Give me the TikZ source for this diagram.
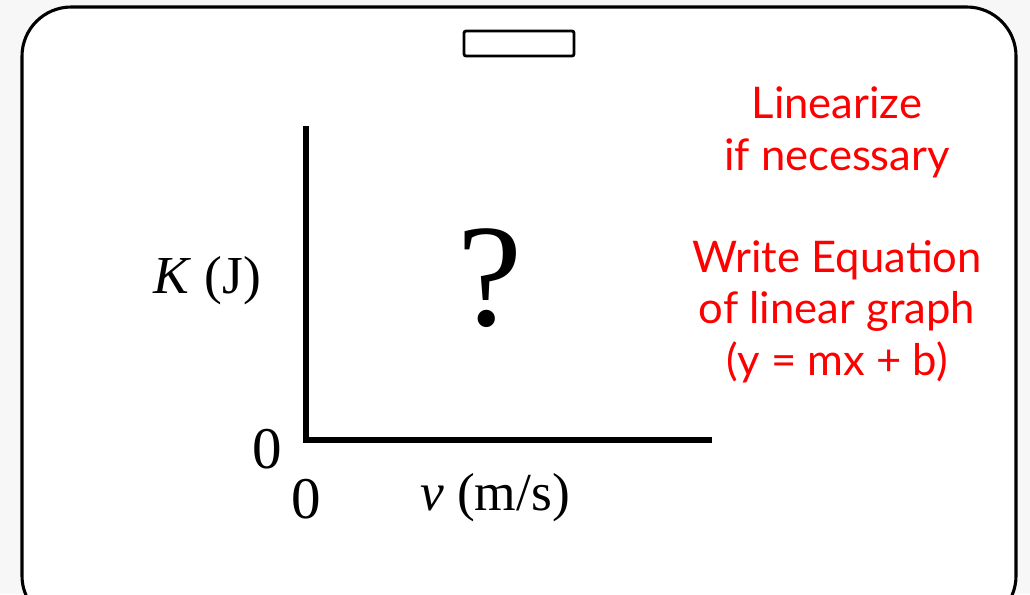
\documentclass[tikz,border=0pt]{standalone}
\usepackage{fontspec}
\setmainfont{Liberation Serif}
\newfontfamily\notefont{Lato}
\definecolor{Cnote}{HTML}{FF0000}
\definecolor{Cpage}{HTML}{F7F7F7}

\begin{document}
\begin{tikzpicture}[x=0.025cm,y=-0.025cm,
		axlabel/.style={anchor=base,inner sep=0pt,font=\fontsize{38}{40}\selectfont},
		note/.style={anchor=base,inner sep=0pt,text=Cnote,font=\notefont\fontsize{31}{37}\selectfont}]
		\fill[Cpage] (0,0) rectangle (1030,594);
		\useasboundingbox (0,0) rectangle (1030,594);
		\draw[fill=white,line width=2.2pt,rounded corners=35] (22,7) rectangle (1016,625);
		\draw[line width=2pt,rounded corners=1.5] (464,31) rectangle (574,56);
		% axes
		\coordinate (top) at (306,126);
		\coordinate (origin) at (306,440);
		\coordinate (right) at (712,440);
		\draw[line width=4.6pt] (top)--(origin)--(right);
		\node[axlabel] (ylab) at (207,293) {\textit{K} (J)};
		\node[axlabel,font=\fontsize{42}{44}\selectfont] (yzero) at (267,468) {0};
		\node[axlabel,font=\fontsize{42}{44}\selectfont] (xzero) at (306,518) {0};
		\node[axlabel] (xlab) at (495,510) {\textit{v} (m/s)};
		\node[axlabel,font=\fontsize{104}{106}\selectfont] (query) at (490,325) {?};
		\foreach \t/\y [count=\i] in {Linearize/118,if necessary/170,
				Write Equation/272,of linear graph/323,(y = mx + b)/375}{
				\node[note] (note\i) at (837,\y) {\t};}
	\end{tikzpicture}
\end{document}
